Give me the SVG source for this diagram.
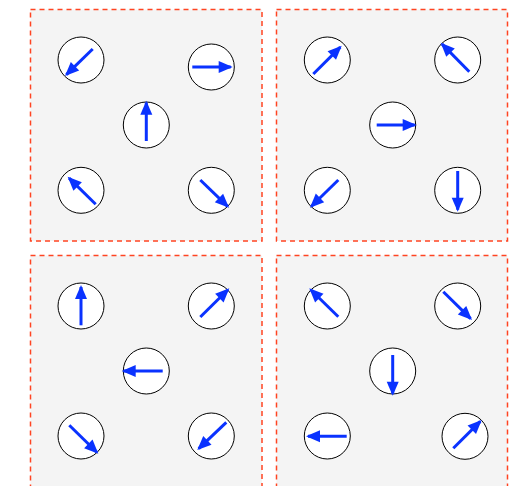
<svg xmlns="http://www.w3.org/2000/svg" width="509" height="486" viewBox="0 0 509 486">
<style>
.panel{fill:#f4f4f4;stroke:#ff4422;stroke-width:1.5;stroke-dasharray:5,4}
.spin{fill:#ffffff;stroke:#000000;stroke-width:1}
.arr{stroke:#0a32ff;stroke-width:3;fill:none;marker-end:url(#head)}
</style>
<defs>
<marker id="head" markerUnits="userSpaceOnUse" markerWidth="14" markerHeight="12" refX="12" refY="6" orient="auto" overflow="visible">
<path d="M0,0 L14,6 L0,12 Z" fill="#0a32ff"/>
</marker>
</defs>
<rect class="panel" x="30.5" y="9.5" width="231.5" height="231.5"/>
<rect class="panel" x="276.5" y="9.5" width="231" height="231.5"/>
<rect class="panel" x="30.5" y="255.5" width="231.5" height="232"/>
<rect class="panel" x="276.5" y="255.5" width="231" height="232"/>
<g id="p1a"><circle class="spin" cx="81" cy="60" r="23"/></g>
<g id="p1b"><circle class="spin" cx="211.3" cy="67" r="23"/></g>
<g id="p1c"><circle class="spin" cx="146.3" cy="125" r="23"/></g>
<g id="p1d"><circle class="spin" cx="81" cy="190.3" r="23"/></g>
<g id="p1e"><circle class="spin" cx="211.3" cy="190.3" r="23"/></g>
<g id="p2a"><circle class="spin" cx="327.3" cy="60" r="23"/></g>
<g id="p2b"><circle class="spin" cx="457.7" cy="60" r="23"/></g>
<g id="p2c"><circle class="spin" cx="392.7" cy="125" r="23"/></g>
<g id="p2d"><circle class="spin" cx="327.3" cy="190.3" r="23"/></g>
<g id="p2e"><circle class="spin" cx="457.7" cy="190.3" r="23"/></g>
<g id="p3a"><circle class="spin" cx="81" cy="306" r="23"/></g>
<g id="p3b"><circle class="spin" cx="211.3" cy="306" r="23"/></g>
<g id="p3c"><circle class="spin" cx="146.3" cy="371" r="23"/></g>
<g id="p3d"><circle class="spin" cx="81" cy="436" r="23"/></g>
<g id="p3e"><circle class="spin" cx="211.3" cy="436" r="23"/></g>
<g id="p4a"><circle class="spin" cx="327.3" cy="306" r="23"/></g>
<g id="p4b"><circle class="spin" cx="457.7" cy="306" r="23"/></g>
<g id="p4c"><circle class="spin" cx="392.7" cy="371" r="23"/></g>
<g id="p4d"><circle class="spin" cx="327.3" cy="436" r="23"/></g>
<g id="p4e"><circle class="spin" cx="465" cy="436.3" r="23"/></g>
<g id="arrows">
<line class="arr" x1="92.7" y1="49" x2="66.4" y2="74.6"/>
<line class="arr" x1="192.3" y1="67" x2="230.7" y2="67"/>
<line class="arr" x1="146.3" y1="141" x2="146.3" y2="102.7"/>
<line class="arr" x1="95.7" y1="204.3" x2="69.1" y2="178.1"/>
<line class="arr" x1="200.3" y1="180" x2="227.6" y2="206.3"/>
<line class="arr" x1="313.3" y1="74" x2="340.3" y2="47.1"/>
<line class="arr" x1="469.3" y1="71.7" x2="442.1" y2="44.1"/>
<line class="arr" x1="376.7" y1="125" x2="414.7" y2="125"/>
<line class="arr" x1="338.3" y1="180" x2="311.4" y2="206.3"/>
<line class="arr" x1="457.7" y1="171" x2="457.7" y2="209.7"/>
<line class="arr" x1="81" y1="325.3" x2="81" y2="287"/>
<line class="arr" x1="200.3" y1="317" x2="227.9" y2="289.7"/>
<line class="arr" x1="162.7" y1="371" x2="123.7" y2="371"/>
<line class="arr" x1="69.3" y1="425.3" x2="96.9" y2="452.3"/>
<line class="arr" x1="226.3" y1="422.3" x2="198.7" y2="448.6"/>
<line class="arr" x1="338.3" y1="316.7" x2="310.7" y2="289.7"/>
<line class="arr" x1="443.3" y1="291.7" x2="470.6" y2="318.6"/>
<line class="arr" x1="392.7" y1="355" x2="392.7" y2="393.7"/>
<line class="arr" x1="346.7" y1="436.3" x2="308" y2="436.3"/>
<line class="arr" x1="453.3" y1="448.3" x2="480.3" y2="421.4"/>
</g>
</svg>
